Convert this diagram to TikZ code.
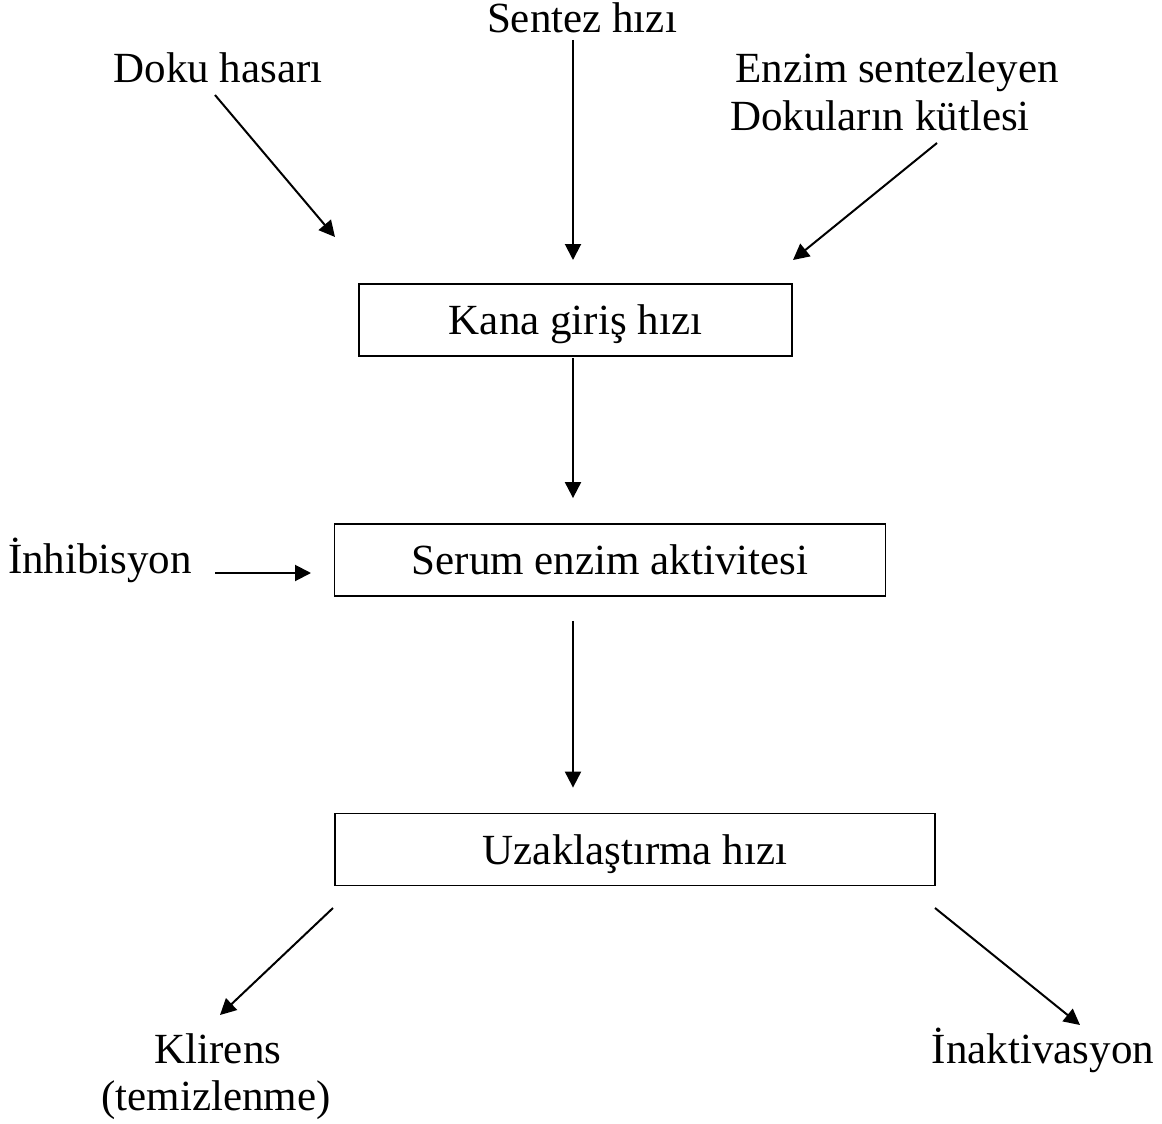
\documentclass[tikz,border=0pt]{standalone}
\usepackage{fontspec}
\setmainfont{Liberation Serif}
\usetikzlibrary{positioning, arrows.meta, calc}

\begin{document}
\begin{tikzpicture}[
    x=1pt, y=-1pt,
    txt/.style={font=\fontsize{43}{50}\selectfont, inner sep=0pt, anchor=base},
    box/.style={draw, line width=1.8pt, rectangle, inner sep=0pt, minimum height=72pt,
                text height=29pt, text depth=0pt, font=\fontsize{43}{50}\selectfont},
    arrow/.style={-{Triangle[length=16pt, width=16pt]}, line width=2pt}
]
\useasboundingbox (0,0) rectangle (1162,1124);

% sources
\node[txt] (sentez) at (582,33) {Sentez hızı};
\node[txt] (doku) at (218,82) {Doku hasarı};
\node[txt] (enzim) at (897,82) {Enzim sentezleyen};
\node[txt] (kutle) at (880,130) {Dokuların kütlesi};
\node[txt] (inhib) at (100,573) {İnhibisyon};

% boxes
\node[box, minimum width=433pt] (kana) at (575.5,320) {Kana giriş hızı};
\node[box, minimum width=551pt] (serum) at (610,560) {Serum enzim aktivitesi};
\node[box, minimum width=600pt] (uzak) at (635,849.5) {Uzaklaştırma hızı};

% outputs
\node[txt] (klirens) at (218,1063) {Klirens};
\node[txt] (temiz) at (216,1110) {(temizlenme)};
\node[txt] (inakt) at (1043,1063) {İnaktivasyon};

% free ends
\coordinate (doku_s) at (215,95);
\coordinate (doku_e) at (335,237);
\coordinate (kutle_s) at (937,143);
\coordinate (kutle_e) at (793,260);
\coordinate (sentez_s) at (573,40);
\coordinate (sentez_e) at (573,260);
\coordinate (inhib_s) at (215,573);
\coordinate (inhib_e) at (311,573);
\coordinate (klir_s) at (333,908);
\coordinate (klir_e) at (220,1015);
\coordinate (inakt_s) at (935,908);
\coordinate (inakt_e) at (1080,1025);

\draw[arrow] (sentez_s) -- (sentez_e);
\draw[arrow] (doku_s) -- (doku_e);
\draw[arrow] (kutle_s) -- (kutle_e);
\draw[arrow, shorten <=1pt, shorten >=25pt] (kana.south -| sentez_s) -- (serum.north -| sentez_s);
\draw[arrow] (inhib_s) -- (inhib_e);
\draw[arrow, shorten <=24pt, shorten >=25pt] (serum.south -| sentez_s) -- (uzak.north -| sentez_s);
\draw[arrow] (klir_s) -- (klir_e);
\draw[arrow] (inakt_s) -- (inakt_e);
\end{tikzpicture}
\end{document}
